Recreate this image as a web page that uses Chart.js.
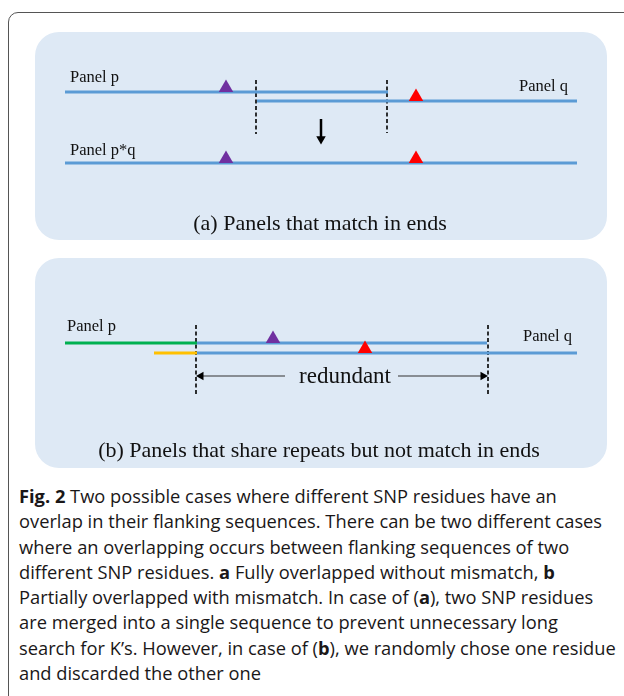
<!DOCTYPE html>
<html>
<head>
<meta charset="utf-8">
<script src="https://cdn.jsdelivr.net/npm/chart.js@4.4.1/dist/chart.umd.min.js"></script>
<style>
  html, body { margin: 0; padding: 0; background: #fff; width: 624px; height: 696px; overflow: hidden; }
  #frame { position: absolute; left: 8px; top: 12px; width: 640px; height: 720px; border: 1.5px solid #555; border-radius: 10px; }
  #wrap { position: absolute; left: 0; top: 0; width: 624px; height: 480px; }
  #caption { position: absolute; left: 19px; top: 483px; width: 610px; font-family: 'Open Sans', sans-serif;
             font-size: 18.3px; line-height: 25.3px; color: #1a1718; white-space: nowrap; }
  #caption b { font-weight: 700; }
</style>
</head>
<body>
<div id="frame"></div>
<div id="wrap"><canvas id="diagram"></canvas></div>
<div id="caption">
<b>Fig. 2</b> Two possible cases where different SNP residues have an<br>
overlap in their flanking sequences. There can be two different cases<br>
where an overlapping occurs between flanking sequences of two<br>
different SNP residues. <b>a</b> Fully overlapped without mismatch, <b>b</b><br>
Partially overlapped with mismatch. In case of (<b>a</b>), two SNP residues<br>
are merged into a single sequence to prevent unnecessary long<br>
search for K’s. However, in case of (<b>b</b>), we randomly chose one residue<br>
and discarded the other one
</div>
<script>
// diagram coordinates (x along the sequence, y down the figure)
// panel background boxes: [left, top, right, bottom]
const panelBoxes = [[35, 32, 607, 240], [35, 258, 607, 468]];

// sequence segments: [from, to, y, colour]
const segFrom   = [65, 257, 65, 65, 197, 154, 197];
const segTo     = [388, 577, 577, 197, 487, 197, 577];
const segY      = [92, 101, 163, 343, 343, 353, 353];
const segColour = ['#5b9bd5', '#5b9bd5', '#5b9bd5', '#00b050', '#5b9bd5', '#ffc000', '#5b9bd5'];

// SNP residues (triangles)
const snpX      = [226, 416, 226, 416, 273, 365];
const snpY      = [92, 101, 163, 163, 343, 353];
const snpColour = ['#7030a0', '#ff0000', '#7030a0', '#ff0000', '#7030a0', '#ff0000'];

// dashed boundary lines: x, top, bottom
const cutX      = [256, 387, 196, 488];
const cutTop    = [80, 80, 325, 325];
const cutBottom = [134, 133, 394, 394];

// text labels
const labelText  = ['Panel p', 'Panel q', 'Panel p*q', '(a) Panels that match in ends',
                    'Panel p', 'Panel q', 'redundant', '(b) Panels that share repeats but not match in ends'];
const labelX     = [70, 568, 70, 320, 67, 572, 345, 319];
const labelY     = [78, 87, 151, 224, 327, 337, 377, 451];
const labelAlign = ['left', 'right', 'left', 'center', 'left', 'right', 'center', 'center'];
const labelSize  = [16.5, 16.5, 16.5, 22, 16.5, 16.5, 23, 22];

const datasets = [];
segFrom.forEach((f, i) => {
  datasets.push({
    type: 'line', data: [{x: f, y: segY[i]}, {x: segTo[i], y: segY[i]}],
    borderColor: segColour[i], borderWidth: 3, pointRadius: 0, borderCapStyle: 'butt'
  });
});
cutX.forEach((x, i) => {
  datasets.push({
    type: 'line', data: [{x: x, y: cutTop[i]}, {x: x, y: cutBottom[i]}],
    borderColor: '#000', borderWidth: 1.6, borderDash: [4, 2.5], pointRadius: 0
  });
});
// merge arrow in (a)
datasets.push({
  type: 'line', data: [{x: 321, y: 119}, {x: 321, y: 139}],
  borderColor: '#000', borderWidth: 2.5, pointRadius: [0, 5.5], pointStyle: 'triangle',
  pointRotation: 180, pointBackgroundColor: '#000', pointBorderWidth: 0
});
// "redundant" span arrows in (b)
datasets.push({
  type: 'line', data: [{x: 285, y: 376}, {x: 201, y: 376}],
  borderColor: '#333', borderWidth: 1.2, pointRadius: [0, 5], pointStyle: 'triangle',
  pointRotation: 270, pointBackgroundColor: '#000', pointBorderWidth: 0
});
datasets.push({
  type: 'line', data: [{x: 398, y: 376}, {x: 483, y: 376}],
  borderColor: '#333', borderWidth: 1.2, pointRadius: [0, 5], pointStyle: 'triangle',
  pointRotation: 90, pointBackgroundColor: '#000', pointBorderWidth: 0
});
// triangles drawn on top of the sequence lines
datasets.push({
  type: 'scatter', order: -1,
  data: snpX.map((x, i) => ({x: x, y: snpY[i] - 4.2})),
  pointStyle: 'triangle', pointRadius: 8.4, pointBackgroundColor: snpColour,
  pointBorderWidth: 0
});

const boxesPlugin = {
  id: 'boxes',
  beforeDatasetsDraw(chart) {
    const {ctx, scales: {x, y}} = chart;
    ctx.save();
    ctx.fillStyle = '#dee9f5';
    panelBoxes.forEach(b => {
      const l = x.getPixelForValue(b[0]), t = y.getPixelForValue(b[1]);
      const r = x.getPixelForValue(b[2]), btm = y.getPixelForValue(b[3]);
      ctx.beginPath();
      ctx.roundRect(l, t, r - l, btm - t, 24);
      ctx.fill();
    });
    ctx.restore();
  },
  afterDatasetsDraw(chart) {
    const {ctx, scales: {x, y}} = chart;
    ctx.save();
    ctx.fillStyle = '#111';
    ctx.textBaseline = 'middle';
    labelText.forEach((t, i) => {
      ctx.font = labelSize[i] + "px 'Liberation Serif', 'Times New Roman', serif";
      ctx.textAlign = labelAlign[i];
      ctx.fillText(t, x.getPixelForValue(labelX[i]), y.getPixelForValue(labelY[i]));
    });
    ctx.restore();
  }
};

new Chart(document.getElementById('diagram'), {
  type: 'scatter',
  data: { datasets: datasets },
  options: {
    responsive: true,
    maintainAspectRatio: false,
    animation: false,
    layout: { padding: 0, autoPadding: false },
    plugins: { legend: { display: false }, tooltip: { enabled: false } },
    scales: {
      x: { type: 'linear', min: 0, max: 624, display: false },
      y: { type: 'linear', min: 0, max: 480, reverse: true, display: false }
    }
  },
  plugins: [boxesPlugin]
});
</script>
</body>
</html>
